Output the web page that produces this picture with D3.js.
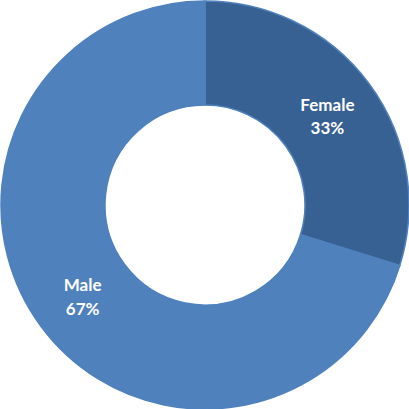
<!DOCTYPE html>
<html><head><meta charset="utf-8">
<script src="https://cdn.jsdelivr.net/npm/d3@7"></script>
<style>html,body{margin:0;padding:0;background:#fff;}svg{display:block;}</style>
</head><body>
<script>
const categories = ["Female", "Male"];
const values = [29.8, 70.2];
const labels = ["33%", "67%"];
const colors = ["#386193", "#4f81bd"];

const W = 409, H = 409, cx = 205, cy = 205, rOuter = 204, rInner = 100;
const svg = d3.select("body").append("svg").attr("width", W).attr("height", H);
const g = svg.append("g").attr("transform", `translate(${cx},${cy})`);
const data = categories.map((c, i) => ({ name: c, value: values[i], label: labels[i], color: colors[i] }));
const pie = d3.pie().value(d => d.value).sort(null);
const arc = d3.arc().innerRadius(rInner).outerRadius(rOuter);
const arcs = pie(data);
g.selectAll("path").data(arcs).join("path")
  .attr("d", arc).attr("fill", d => d.data.color)
  .attr("stroke", "#4f81bd").attr("stroke-width", 1.5);
const lab = g.selectAll("text").data(arcs).join("text")
  .attr("transform", d => `translate(${arc.centroid(d)})`)
  .attr("text-anchor", "middle")
  .attr("font-family", "Lato, 'Open Sans', sans-serif").attr("font-weight", "bold")
  .attr("font-size", 17).attr("fill", "#fff");
lab.append("tspan").attr("x", 0).attr("dy", "-0.25em").text(d => d.data.name);
lab.append("tspan").attr("x", 0).attr("dy", "1.4em").text(d => d.data.label);
</script>
</body></html>
